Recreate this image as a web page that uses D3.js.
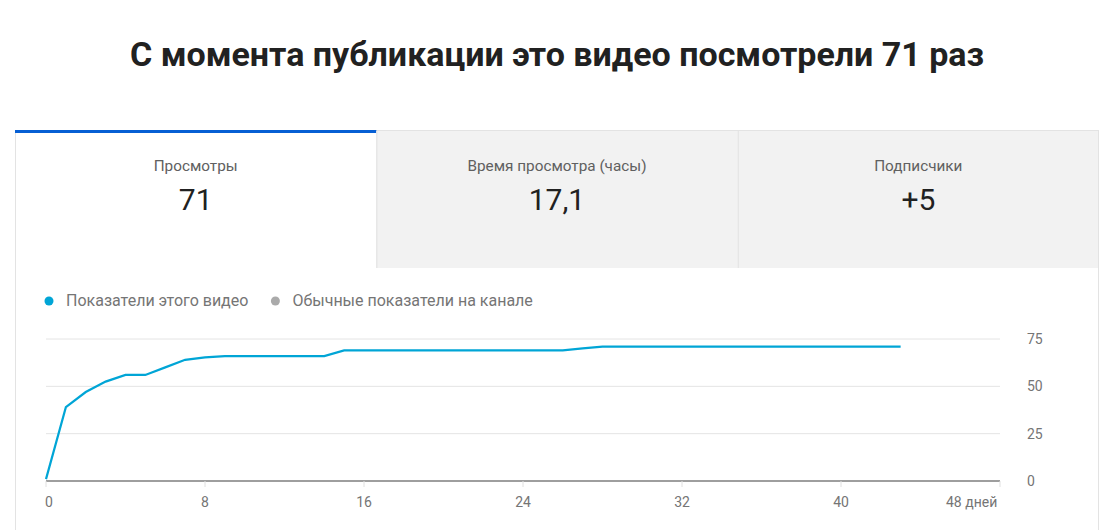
<!DOCTYPE html>
<html><head><meta charset="utf-8">
<script src="https://cdn.jsdelivr.net/npm/d3@7"></script>
<style>body{margin:0;background:#fff;font-family:Roboto,sans-serif}</style>
</head><body><svg id="c" width="1103" height="530"></svg>
<script>
const days = [0,1,2,3,4,5,6,7,8,9,10,11,12,13,14,15,16,17,18,19,20,21,22,23,24,25,26,27,28,29,30,31,32,33,34,35,36,37,38,39,40,41,42,43];
const views = [1,39,47,52.5,56,56,60,64,65.3,66,66,66,66,66,66,69,69,69,69,69,69,69,69,69,69,69,69,70,71,71,71,71,71,71,71,71,71,71,71,71,71,71,71,71];
const xTicks = [0,8,16,24,32,40,48];
const yTicks = [0,25,50,75];
const tabs = [{label:"Просмотры",value:"71"},{label:"Время просмотра (часы)",value:"17,1"},{label:"Подписчики",value:"+5"}];
const legend = [{label:"Показатели этого видео",color:"#00a5d6"},{label:"Обычные показатели на канале",color:"#aaaaaa"}];

const svg = d3.select("#c");
svg.append("text").attr("x",557).attr("y",66).attr("text-anchor","middle")
 .attr("font-size",34).attr("font-weight",700).attr("fill","#212121")
 .text("С момента публикации это видео посмотрели 71 раз");
svg.append("rect").attr("x",15.5).attr("y",130.5).attr("width",1083).attr("height",420).attr("fill","#fff").attr("stroke","#e3e3e3");
const tx = d3.scaleBand().domain(d3.range(3)).range([15,1099]);
tabs.forEach((t,i)=>{
  const x0=tx(i), w=tx.bandwidth();
  if(i>0) svg.append("rect").attr("x",x0).attr("y",131).attr("width",w-(i==2?1:0)).attr("height",137).attr("fill","#f2f2f2");
  if(i>0) svg.append("line").attr("x1",x0+0.5).attr("x2",x0+0.5).attr("y1",131).attr("y2",268).attr("stroke","#e0e0e0");
  if(i==0) svg.append("rect").attr("x",x0).attr("y",130).attr("width",w).attr("height",3).attr("fill","#065fd4");
  svg.append("text").attr("x",x0+w/2).attr("y",171).attr("text-anchor","middle").attr("font-size",15.3).attr("fill","#606060").text(t.label);
  svg.append("text").attr("x",x0+w/2).attr("y",210).attr("text-anchor","middle").attr("font-size",30).attr("fill","#212121").text(t.value);
});
let lx=49;
legend.forEach((l,i)=>{
  svg.append("circle").attr("cx",lx).attr("cy",301).attr("r",4.5).attr("fill",l.color);
  const t=svg.append("text").attr("x",lx+17).attr("y",306).attr("font-size",16).attr("fill","#757575").text(l.label);
  lx += t.node().getComputedTextLength()+44;
});
const x = d3.scaleLinear().domain([0,48]).range([46,1000]);
const y = d3.scaleLinear().domain([0,75]).range([481,339]);
yTicks.forEach(v=>{
  svg.append("line").attr("x1",46).attr("x2",1000).attr("y1",y(v)).attr("y2",y(v)).attr("stroke",v==0?"#9e9e9e":"#e4e4e4").attr("stroke-width",v==0?2:1);
  svg.append("text").attr("x",1027).attr("y",y(v)+5).attr("font-size",14).attr("fill","#757575").text(v);
});
xTicks.forEach(v=>{
  svg.append("line").attr("x1",x(v)).attr("x2",x(v)).attr("y1",481).attr("y2",487).attr("stroke","#e0e0e0");
  svg.append("text").attr("x",x(v)+(v==0?3:0)).attr("y",507).attr("text-anchor",v==48?"start":"middle").attr("dx",v==48?-54:0).attr("font-size",14).attr("fill","#757575").text(v==48?"48 дней":v);
});
svg.append("path").datum(days.map((d,i)=>[d,views[i]]))
 .attr("d",d3.line().x(d=>x(d[0])).y(d=>y(d[1])))
 .attr("fill","none").attr("stroke","#00a5d6").attr("stroke-width",2.2);
</script></body></html>
